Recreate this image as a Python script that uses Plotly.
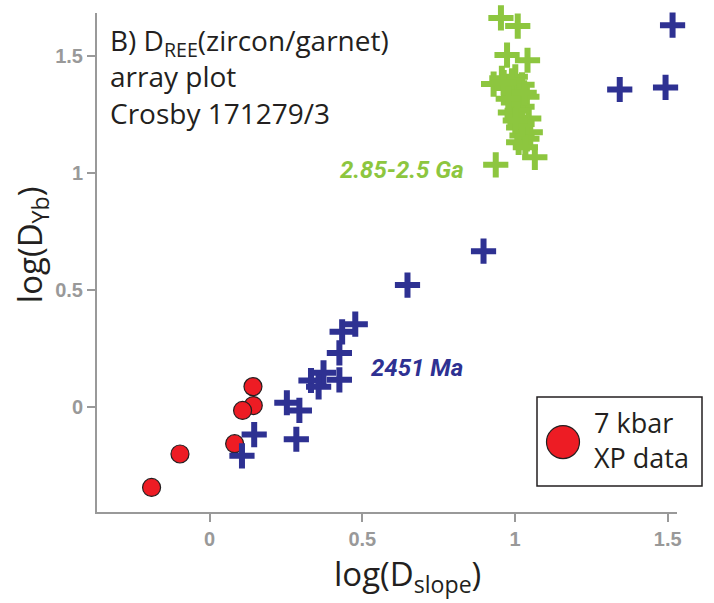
import plotly.graph_objects as go

# ---- data ----
xp_x = [0.142, 0.143, 0.108, 0.082, -0.097, -0.190]
xp_y = [0.087, 0.006, -0.015, -0.157, -0.201, -0.344]

ma2451_x = [0.106, 0.146, 0.284, 0.253, 0.294, 0.332, 0.373, 0.357, 0.425, 0.425,
            0.434, 0.477, 0.648, 0.897, 1.343, 1.493, 1.516]
ma2451_y = [-0.209, -0.118, -0.138, 0.018, -0.015, 0.113, 0.146, 0.086, 0.116, 0.231,
            0.321, 0.354, 0.521, 0.666, 1.357, 1.366, 1.632]

ga_x = [0.954, 1.009, 0.974, 1.041, 0.930, 0.957, 1.001, 0.974, 1.023, 1.039,
        0.995, 1.023, 0.985, 1.045, 1.007, 1.012, 1.050, 1.023, 1.039, 1.012,
        1.034, 1.065, 0.937, 0.995, 1.007, 0.990, 0.963, 1.023, 1.001, 0.978, 1.030]
ga_y = [1.663, 1.628, 1.504, 1.482, 1.380, 1.405, 1.411, 1.363, 1.377, 1.326,
        1.301, 1.283, 1.259, 1.233, 1.237, 1.195, 1.174, 1.160, 1.146, 1.131,
        1.110, 1.067, 1.035, 1.337, 1.266, 1.394, 1.386, 1.210, 1.224, 1.317, 1.343]

x_ticks = [0, 0.5, 1, 1.5]
y_ticks = [0, 0.5, 1, 1.5]
x_range = [-0.3687, 1.5305]
y_range = [-0.449, 1.684]

RED = "#ED1C24"
BLUE = "#2E3192"
GREEN = "#8DC63F"
GRAY = "#999999"
TXT_FONT = "Open Sans"
LABEL_FONT = "Roboto, sans-serif"

fig = go.Figure()

fig.add_trace(go.Scatter(
    x=xp_x, y=xp_y, mode="markers", name="7 kbar XP data", showlegend=False,
    marker=dict(symbol="circle", size=18, color=RED, line=dict(color="#231F20", width=1.2)),
    cliponaxis=False))

fig.add_trace(go.Scatter(
    x=ma2451_x, y=ma2451_y, mode="markers", name="2451 Ma", showlegend=False,
    marker=dict(symbol="cross-thin", size=18, color=BLUE, line=dict(color=BLUE, width=6)),
    cliponaxis=False))

fig.add_trace(go.Scatter(
    x=ga_x, y=ga_y, mode="markers", name="2.85-2.5 Ga", showlegend=False,
    marker=dict(symbol="cross-thin", size=18, color=GREEN, line=dict(color=GREEN, width=6)),
    cliponaxis=False))

axis_common = dict(
    showgrid=False, zeroline=False, showline=True, linecolor=GRAY, linewidth=2,
    ticks="outside", ticklen=8, tickwidth=1.5, tickcolor=GRAY,
    tickfont=dict(family="Liberation Sans, Arial, sans-serif", size=20, color=GRAY, weight="bold"),
)

fig.update_xaxes(range=x_range, tickvals=x_ticks, **axis_common)
fig.update_yaxes(range=y_range, tickvals=y_ticks, **axis_common)

def px_to_paper_x(px):
    return (px - 97) / 580.0

def px_to_paper_y(py):
    return (512 - py) / 499.3

annotations = [
    # title block
    dict(text="B) D<sub>REE</sub>(zircon/garnet)<br>array plot<br>Crosby 171279/3",
         x=px_to_paper_x(108), y=px_to_paper_y(76),
         xref="paper", yref="paper", xanchor="left", yanchor="middle", showarrow=False,
         align="left", font=dict(family=TXT_FONT, size=28, color="#231F20")),
    # group labels
    dict(text="<b><i>2.85-2.5 Ga</i></b>", x=0.421, y=1.012, xref="x", yref="y",
         xanchor="left", yanchor="middle", showarrow=False,
         font=dict(family=LABEL_FONT, size=24, color=GREEN)),
    dict(text="<b><i>2451 Ma</i></b>", x=0.523, y=0.166, xref="x", yref="y",
         xanchor="left", yanchor="middle", showarrow=False,
         font=dict(family=LABEL_FONT, size=24, color=BLUE)),
    # axis titles
    dict(text="log(D<sub>slope</sub>)", x=px_to_paper_x(407), y=px_to_paper_y(576),
         xref="paper", yref="paper", xanchor="center", yanchor="middle", showarrow=False,
         font=dict(family=TXT_FONT, size=33, color="#231F20")),
    dict(text="log(D<sub>Yb</sub>)", x=px_to_paper_x(31), y=px_to_paper_y(245),
         xref="paper", yref="paper", xanchor="center", yanchor="middle", showarrow=False,
         textangle=-90, font=dict(family=TXT_FONT, size=33, color="#231F20")),
    # legend text
    dict(text="7 kbar<br>XP data", x=px_to_paper_x(592), y=px_to_paper_y(440),
         xref="paper", yref="paper", xanchor="left", yanchor="middle", showarrow=False,
         align="left", font=dict(family=TXT_FONT, size=27, color="#231F20")),
]

shapes = [
    dict(type="rect", xref="paper", yref="paper",
         x0=px_to_paper_x(537), x1=px_to_paper_x(702),
         y0=px_to_paper_y(486), y1=px_to_paper_y(397),
         line=dict(color="#231F20", width=1.5), fillcolor="white", layer="above"),
    dict(type="circle", xref="paper", yref="paper", xsizemode="pixel", ysizemode="pixel",
         xanchor=px_to_paper_x(563), yanchor=px_to_paper_y(442),
         x0=-16.5, x1=16.5, y0=-16.5, y1=16.5,
         line=dict(color="#231F20", width=1.2), fillcolor=RED, layer="above"),
]

fig.update_layout(
    width=714, height=603,
    margin=dict(l=97, r=37, t=13, b=91, pad=0),
    paper_bgcolor="white", plot_bgcolor="white",
    showlegend=False,
    annotations=annotations,
    shapes=shapes,
)

fig.write_html("out.html")
